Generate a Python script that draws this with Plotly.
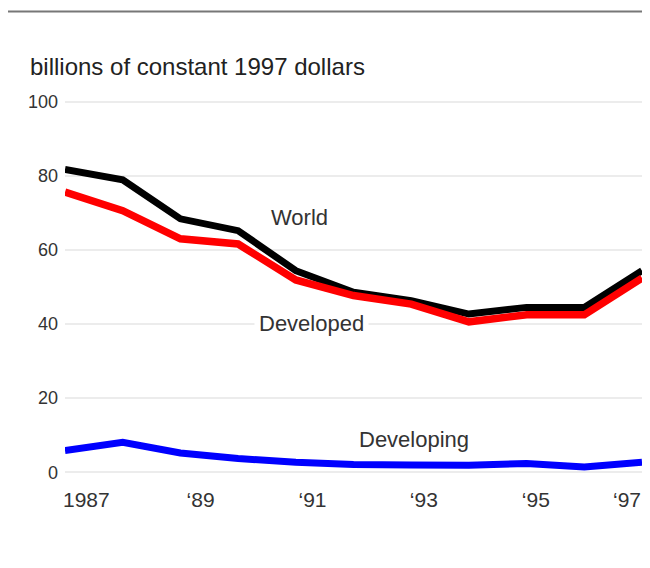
import plotly.graph_objects as go

years = list(range(1987, 1998))
world = [81.7, 78.9, 68.4, 65.2, 54.4, 48.6, 46.3, 42.7, 44.5, 44.5, 54.4]
developed = [75.6, 70.6, 63.0, 61.6, 51.9, 47.7, 45.4, 40.6, 42.5, 42.5, 52.4]
developing = [5.9, 8.1, 5.2, 3.7, 2.7, 2.1, 2.0, 1.9, 2.4, 1.4, 2.7]

tick_pos = [1987.37, 1989.35, 1991.29, 1993.22, 1995.16, 1996.74]
tick_text = ["1987", "\u201889", "\u201891", "\u201893", "\u201895", "\u201897"]

y_ticks = [0, 20, 40, 60, 80, 100]

label_text = ["World", "Developed", "Developing"]
label_x = [1991.07, 1991.28, 1993.05]
label_y = [68.7, 40.1, 8.8]
label_bg = ["rgba(0,0,0,0)", "white", "rgba(0,0,0,0)"]

FONT = "Liberation Sans, Arial, Helvetica, sans-serif"
TEXT = "#333333"

W, H = 634, 515  # visible page area starts 8px in and ends 8px before the edge

fig = go.Figure()
fig.add_trace(go.Scatter(x=years, y=world, mode="lines",
                         line=dict(color="#000000", width=7), name="World"))
fig.add_trace(go.Scatter(x=years, y=developed, mode="lines",
                         line=dict(color="#ff0000", width=7.5), name="Developed"))
fig.add_trace(go.Scatter(x=years, y=developing, mode="lines",
                         line=dict(color="#0000ff", width=7), name="Developing"))

for t, x, y, bg in zip(label_text, label_x, label_y, label_bg):
    fig.add_annotation(x=x, y=y, text=t, showarrow=False, xanchor="center",
                       yanchor="middle", bgcolor=bg, borderpad=4,
                       font=dict(family=FONT, size=22, color=TEXT))

fig.add_shape(type="line", xref="paper", yref="paper",
              x0=-0.099, x1=1.01, y0=1.229, y1=1.229,
              line=dict(color="#777777", width=2))

fig.update_layout(
    width=W, height=H,
    margin=dict(l=57, r=0, t=90, b=H - 90 - 378, pad=0, autoexpand=False),
    paper_bgcolor="white", plot_bgcolor="white",
    showlegend=False,
    font=dict(family=FONT, color=TEXT),
    title=dict(text="billions of constant 1997 dollars",
               xref="container", yref="container",
               x=22 / W, xanchor="left",
               y=1 - 59 / H, yanchor="middle",
               font=dict(family=FONT, size=24, color="#222222")),
    xaxis=dict(range=[1987, 1997], tickvals=tick_pos, ticktext=tick_text,
               showgrid=False, zeroline=False, showline=False, ticks="",
               ticklabelstandoff=9, ticklabeloverflow="allow",
               tickfont=dict(family=FONT, size=21, color=TEXT)),
    yaxis=dict(range=[-1, 101], tickvals=y_ticks, showgrid=True,
               gridcolor="#ececec", gridwidth=2, zeroline=False,
               showline=False, ticks="", ticklabelstandoff=6,
               tickfont=dict(family=FONT, size=18, color=TEXT)),
)

fig.write_html("out.html")
